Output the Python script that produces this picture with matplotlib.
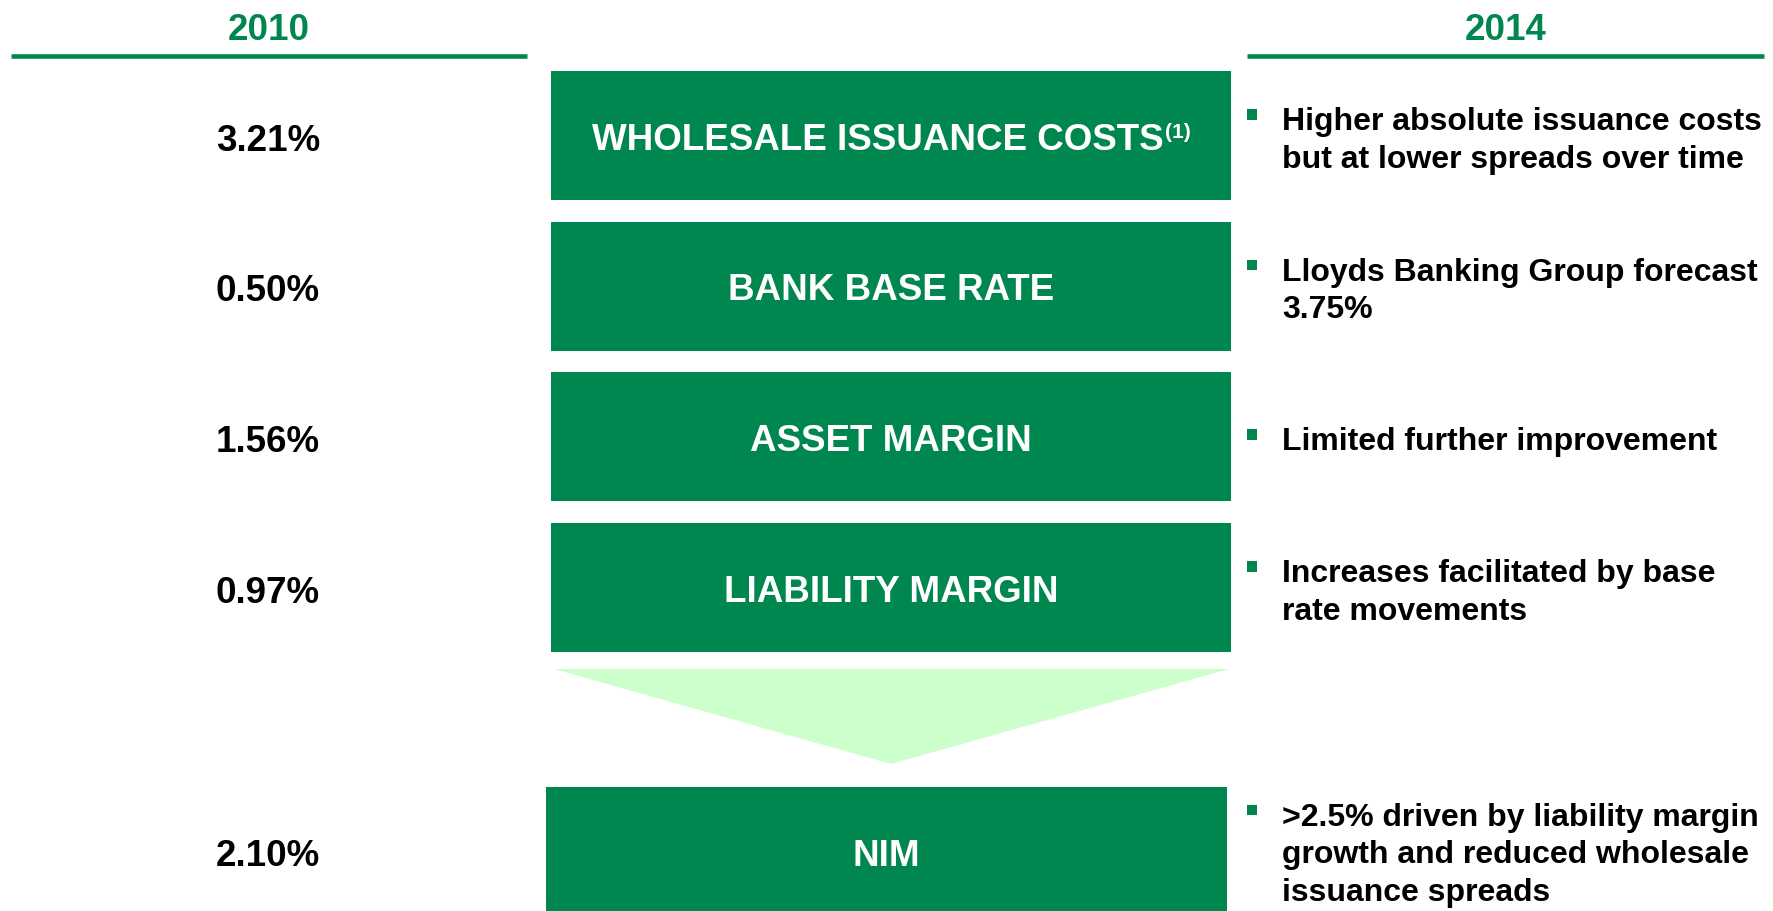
import matplotlib
matplotlib.use('Agg')
import matplotlib.pyplot as plt
from matplotlib.patches import Rectangle, Polygon

# ---- data ----
years = ['2010', '2014']
components = ['WHOLESALE ISSUANCE COSTS', 'BANK BASE RATE', 'ASSET MARGIN', 'LIABILITY MARGIN']
component_notes = ['(1)', '', '', '']
values_2010 = ['3.21%', '0.50%', '1.56%', '0.97%']
result_label = 'NIM'
result_2010 = '2.10%'
outlook_2014 = [
    ['Higher absolute issuance costs', 'but at lower spreads over time'],
    ['Lloyds Banking Group forecast', '3.75%'],
    ['Limited further improvement'],
    ['Increases facilitated by base', 'rate movements'],
]
result_outlook = ['>2.5% driven by liability margin', 'growth and reduced wholesale',
                  'issuance spreads']

# ---- style ----
GREEN = '#00874F'
LIGHT = '#CCFFCC'
FONT = 'Liberation Sans'
W, H = 1773, 912

fig = plt.figure(figsize=(W / 100, H / 100), dpi=100)
ax = fig.add_axes([0, 0, 1, 1])
ax.set_xlim(0, W)
ax.set_ylim(H, 0)
ax.axis('off')

BIG = 26.5
SMALL = 23
CAP_BIG = 13.3   # half cap height in px
CAP_SMALL = 11.5
LINE_GAP = 37.5

left_x = (11, 527)
right_x = (1247, 1764)
box_x = (551, 1231)

# headers
for yr, (x0, x1) in zip(years, [left_x, right_x]):
    ax.text((x0 + x1) / 2, 40, yr, ha='center', va='baseline', fontsize=BIG,
            fontweight='bold', color=GREEN, family=FONT)
    ax.plot([x0, x1], [57, 57], color=GREEN, lw=3.3, solid_capstyle='butt')

renderer = fig.canvas.get_renderer()

def box_label(cx, cy, label, note):
    t = ax.text(0, cy + CAP_BIG, label, ha='left', va='baseline', fontsize=BIG,
                fontweight='bold', color='white', family=FONT)
    w_main = t.get_window_extent(renderer).width
    w_note = 0
    s = None
    if note:
        s = ax.text(0, cy + CAP_BIG - 12, note, ha='left', va='baseline', fontsize=15,
                    fontweight='bold', color='white', family=FONT)
        w_note = s.get_window_extent(renderer).width
    x0 = cx - (w_main + w_note) / 2
    t.set_x(x0)
    if s is not None:
        s.set_x(x0 + w_main + 1)

def outlook(cy, lines):
    first = cy - (len(lines) - 1) * LINE_GAP / 2
    ax.add_patch(Rectangle((1247, first - 3 - 5.5), 10, 10.5, color=GREEN, lw=0))
    for i, ln in enumerate(lines):
        ax.text(1282, first + i * LINE_GAP + CAP_SMALL, ln, ha='left', va='baseline',
                fontsize=SMALL, fontweight='bold', color='black', family=FONT)

top0, pitch, bh = 72, 150.7, 129
cx = (box_x[0] + box_x[1]) / 2
for i, (lab, note, val, notes) in enumerate(zip(components, component_notes, values_2010, outlook_2014)):
    top = top0 + i * pitch
    cy = top + bh / 2
    ax.add_patch(Rectangle((box_x[0], top), box_x[1] - box_x[0], bh, color=GREEN, lw=0))
    box_label(cx, cy, lab, note)
    ax.text(268, cy + CAP_BIG + 1, val, ha='center', va='baseline', fontsize=BIG,
            fontweight='bold', color='black', family=FONT)
    outlook(cy + 1, notes)

# arrow triangle
ax.add_patch(Polygon([(554, 670), (1229, 670), (891, 765)], closed=True, color=LIGHT, lw=0))

# result box
nim_top, nim_h = 788, 130
nim_x = (546, 1227)
nim_cy = nim_top + nim_h / 2
ax.add_patch(Rectangle((nim_x[0], nim_top), nim_x[1] - nim_x[0], nim_h, color=GREEN, lw=0))
box_label((nim_x[0] + nim_x[1]) / 2, nim_cy, result_label, '')
ax.text(268, nim_cy + CAP_BIG, result_2010, ha='center', va='baseline', fontsize=BIG,
        fontweight='bold', color='black', family=FONT)
outlook(nim_cy - 1, result_outlook)

fig.savefig('out.png', dpi=100, facecolor='white')
